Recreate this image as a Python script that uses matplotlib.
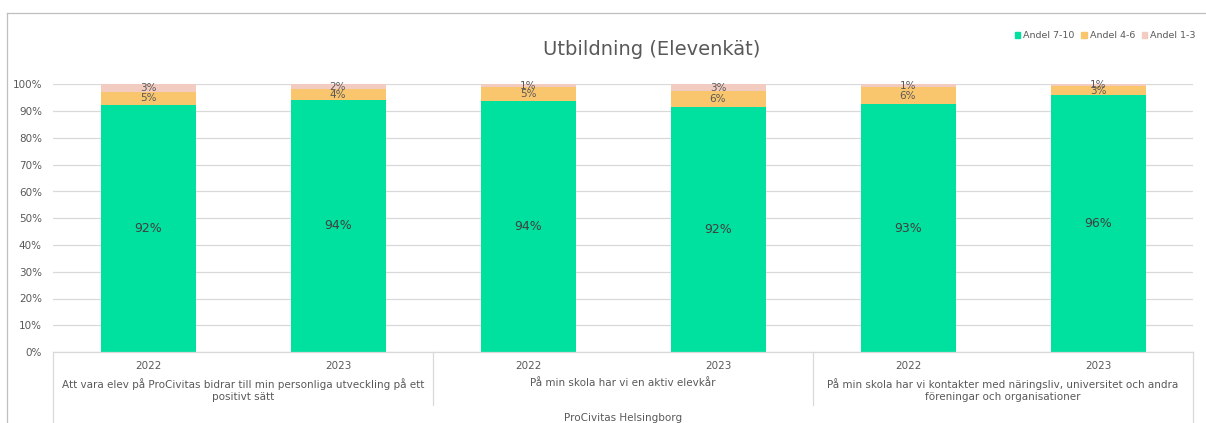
import numpy as np
import matplotlib.pyplot as plt
from matplotlib.lines import Line2D
from matplotlib.patches import Rectangle

plt.rcParams['font.family'] = ['DejaVu Sans']

years = ['2022', '2023', '2022', '2023', '2022', '2023']
groups = ['Att vara elev på ProCivitas bidrar till min personliga utveckling på ett\npositivt sätt',
          'På min skola har vi en aktiv elevkår',
          'På min skola har vi kontakter med näringsliv, universitet och andra\nföreningar och organisationer']
school = 'ProCivitas Helsingborg'
andel_7_10 = [92.4, 94.3, 93.8, 91.6, 92.7, 96.0]
andel_4_6 = [4.9, 3.9, 5.3, 5.8, 6.3, 3.4]
andel_1_3 = [2.7, 1.8, 0.9, 2.6, 1.0, 0.6]
series = [('Andel 7-10', andel_7_10, '#00e09e'),
          ('Andel 4-6', andel_4_6, '#f9c66e'),
          ('Andel 1-3', andel_1_3, '#f2cbc1')]

W, H = 1206, 423
fig = plt.figure(figsize=(W / 100, H / 100), dpi=100)


def fx(px):
    return px / W


def fy(py):
    return 1 - py / H


x0, x1, ytop, ybot = 53, 1193, 84.5, 352
ax = fig.add_axes([fx(x0), fy(ybot), fx(x1 - x0), fy(ytop) - fy(ybot)])

x = np.arange(len(years))
bottom = np.zeros(len(years))
txt = '#595959'
for name, vals, col in series:
    v = np.array(vals) / 100
    ax.bar(x, v, width=0.5, bottom=bottom, color=col, label=name, zorder=2)
    big = name == 'Andel 7-10'
    for xi, b, vi in zip(x, bottom, v):
        ax.text(xi, b + vi / 2, f'{int(vi * 100 + 0.5)}%', ha='center', va='center',
                fontsize=9 if big else 7.5, color='#404040' if big else txt, zorder=3)
    bottom += v

ax.set_xlim(-0.5, len(years) - 0.5)
ax.set_ylim(0, 1)
ticks = np.arange(0, 1.01, 0.1)
ax.set_yticks(ticks)
ax.set_yticklabels([f'{int(round(t * 100))}%' for t in ticks], fontsize=7.5, color=txt)
ax.set_xticks([])
ax.tick_params(axis='y', length=0, pad=8)
ax.grid(axis='y', color='#d9d9d9', linewidth=0.9, zorder=0)
for s in ax.spines.values():
    s.set_visible(False)

# category axis lines
lc = '#d9d9d9'
fig.add_artist(Line2D([fx(x0), fx(x1)], [fy(ybot), fy(ybot)], color=lc, lw=0.9))
for px, end in [(53, 423), (433, 405), (813, 405), (1193, 423)]:
    fig.add_artist(Line2D([fx(px), fx(px)], [fy(ybot), fy(end)], color=lc, lw=0.9))

# year labels, group labels, school
for i, yr in enumerate(years):
    fig.text(fx(x0 + 95 + 190 * i), fy(366), yr, ha='center', va='center', fontsize=7.5, color=txt)
for i, g in enumerate(groups):
    fig.text(fx(x0 + 190 + 380 * i), fy(378), g, ha='center', va='top', fontsize=7.5,
             color=txt, linespacing=1.3)
fig.text(fx(623), fy(418), school, ha='center', va='center', fontsize=7.5, color=txt)

# title and legend
fig.text(fx(652), fy(49), 'Utbildning (Elevenkät)', ha='center', va='center',
         fontsize=14, color=txt)
handles = [Rectangle((0, 0), 1, 1, color=c) for _, _, c in series]
fig.legend(handles, [n for n, _, _ in series], loc='center right',
           bbox_to_anchor=(fx(1204), fy(36)), ncol=3, frameon=False, fontsize=6.8,
           handlelength=0.6, handleheight=0.6, handletextpad=0.3, columnspacing=0.7,
           labelcolor=txt)

# chart frame
fig.add_artist(Line2D([fx(7), fx(7)], [fy(13), 0], color='#bfbfbf', lw=0.9))
fig.add_artist(Line2D([fx(7), 1], [fy(13), fy(13)], color='#bfbfbf', lw=0.9))

fig.savefig('out.png', dpi=100)
